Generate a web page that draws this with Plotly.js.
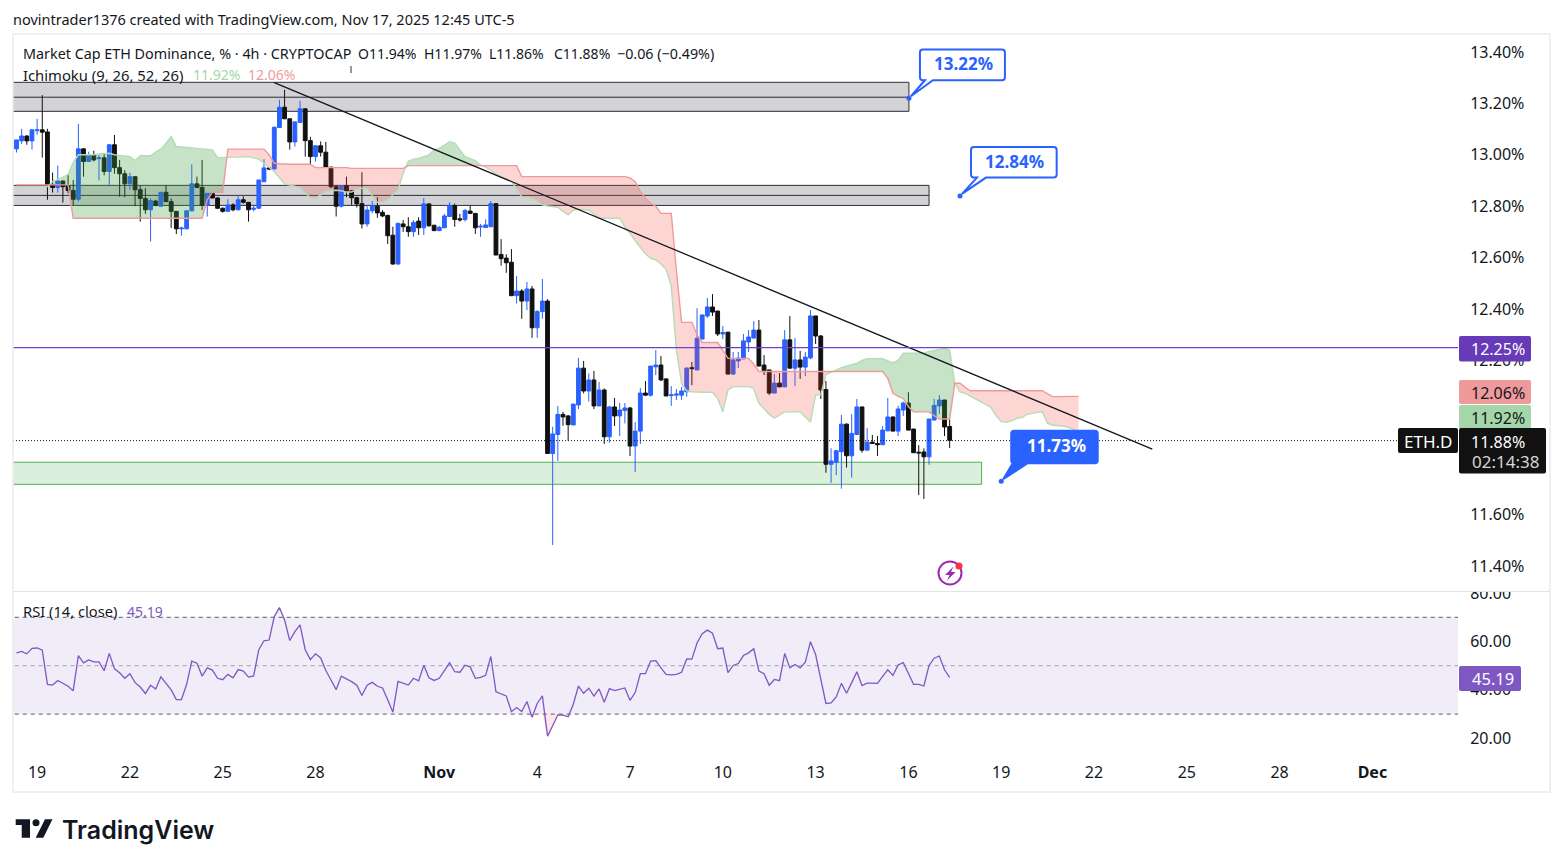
<!DOCTYPE html>
<html><head><meta charset="utf-8">
<script src="https://cdn.plot.ly/plotly-3.0.1.min.js"></script>
<style>html,body{margin:0;padding:0;background:#fff}#c{width:1563px;height:867px}</style>
</head><body><div id="c"></div>
<script>
const WIDTH=1563, HEIGHT=867;
const FONT='"Noto Sans", sans-serif';
const INK='#131722', BLUE='#2962ff', CANDLE_DOWN='#111111', PURPLE='#673ab7', RSI_PURPLE='#7e57c2';

const open=[
13.023,13.054,13.073,13.054,13.094,13.097,13.089,12.883,12.873,12.898,
12.88,12.861,12.827,13.023,12.974,12.999,12.985,12.988,12.935,13.039,
12.95,12.926,12.887,12.915,12.864,12.83,12.786,12.82,12.80,12.854,
12.818,12.78,12.712,12.712,12.782,12.887,12.873,12.803,12.85,12.832,
12.792,12.78,12.805,12.786,12.825,12.815,12.788,12.792,12.895,12.949,
12.945,13.106,13.185,13.14,13.05,13.126,13.179,13.055,12.993,13.035,
13.01,12.952,12.876,12.80,12.88,12.86,12.833,12.81,12.731,12.782,
12.80,12.776,12.764,12.687,12.575,12.731,12.72,12.701,12.742,12.716,
12.809,12.726,12.705,12.716,12.76,12.802,12.751,12.748,12.781,12.772,
12.719,12.717,12.72,12.81,12.612,12.598,12.582,12.452,12.47,12.431,
12.478,12.327,12.39,12.431,11.838,11.912,11.99,11.984,11.949,12.027,
12.17,12.081,12.124,12.023,12.085,11.903,12.019,11.984,12.005,12.015,
11.867,11.925,12.073,12.065,12.175,12.182,12.128,12.063,12.065,12.065,
12.078,12.172,12.163,12.283,12.373,12.408,12.392,12.303,12.31,12.147,
12.198,12.206,12.272,12.287,12.318,12.182,12.163,12.073,12.112,12.097,
12.28,12.17,12.202,12.174,12.21,12.373,12.295,12.087,11.796,11.803,
11.845,11.952,11.829,11.912,12.019,11.851,11.882,11.877,11.872,11.926,
11.98,11.925,12.007,12.034,11.933,11.843,11.844,11.825,11.968,12.023,
12.046,11.943];
const close=[
13.058,13.073,13.054,13.097,13.097,13.088,12.883,12.873,12.898,12.876,
12.861,12.827,13.023,12.974,12.999,12.98,12.988,12.935,13.039,12.95,
12.926,12.887,12.915,12.864,12.83,12.786,12.822,12.803,12.854,12.818,
12.78,12.712,12.715,12.782,12.887,12.873,12.803,12.85,12.832,12.792,
12.78,12.805,12.786,12.825,12.815,12.786,12.792,12.902,12.949,12.945,
13.107,13.185,13.14,13.05,13.128,13.179,13.055,12.993,13.035,13.01,
12.952,12.876,12.80,12.88,12.857,12.833,12.809,12.731,12.785,12.802,
12.774,12.762,12.685,12.575,12.733,12.72,12.701,12.737,12.716,12.809,
12.724,12.705,12.718,12.762,12.803,12.748,12.747,12.783,12.772,12.716,
12.722,12.727,12.81,12.61,12.596,12.58,12.452,12.47,12.431,12.478,
12.327,12.39,12.431,11.838,11.914,11.99,11.98,11.95,12.03,12.17,
12.081,12.124,12.023,12.085,11.903,12.019,11.984,12.007,12.015,11.867,
11.925,12.073,12.065,12.178,12.182,12.124,12.062,12.066,12.069,12.081,
12.17,12.168,12.286,12.377,12.408,12.388,12.303,12.309,12.147,12.202,
12.209,12.276,12.291,12.318,12.178,12.16,12.073,12.112,12.097,12.28,
12.17,12.202,12.174,12.213,12.373,12.295,12.085,11.796,11.809,11.849,
11.952,11.829,11.916,12.019,11.851,11.882,11.877,11.872,11.929,11.98,
11.925,12.011,12.034,11.929,11.841,11.84,11.825,11.972,12.025,12.046,
11.941,11.889];
const high=[
13.058,13.101,13.076,13.10,13.14,13.232,13.101,12.931,12.958,12.90,
12.926,12.902,13.12,13.025,13.012,13.016,13.0,13.006,13.04,13.077,
12.98,12.94,12.93,12.915,12.88,12.87,12.83,12.825,12.855,12.882,
12.83,12.78,12.72,12.782,12.963,12.915,12.98,12.85,12.853,12.835,
12.795,12.827,12.812,12.842,12.838,12.816,12.805,12.902,12.983,12.95,
13.11,13.214,13.253,13.142,13.13,13.21,13.18,13.07,13.037,13.052,
13.05,12.953,12.882,12.882,12.915,12.862,12.837,12.932,12.802,12.82,
12.835,12.785,12.767,12.72,12.737,12.746,12.757,12.746,12.757,12.832,
12.81,12.727,12.723,12.77,12.816,12.81,12.77,12.79,12.803,12.772,
12.731,12.749,12.82,12.811,12.672,12.613,12.633,12.528,12.477,12.505,
12.49,12.396,12.517,12.438,11.942,12.023,12.0,11.988,12.031,12.21,
12.198,12.15,12.159,12.116,12.091,12.023,12.054,12.034,12.034,12.019,
11.96,12.093,12.12,12.178,12.24,12.217,12.13,12.10,12.089,12.097,
12.174,12.194,12.403,12.378,12.443,12.458,12.393,12.334,12.311,12.233,
12.233,12.303,12.318,12.353,12.357,12.221,12.163,12.147,12.151,12.318,
12.373,12.287,12.237,12.233,12.396,12.373,12.299,12.12,11.858,11.849,
11.988,11.955,11.991,12.05,12.02,11.937,11.91,11.906,11.945,12.054,
11.982,12.023,12.04,12.076,11.934,11.87,11.858,11.972,12.05,12.065,
12.047,11.972];
const low=[
13.009,13.042,13.039,13.02,13.078,12.989,12.825,12.853,12.853,12.814,
12.85,12.805,12.818,12.915,12.974,12.974,12.90,12.92,12.877,12.926,
12.837,12.835,12.864,12.80,12.74,12.77,12.663,12.80,12.798,12.815,
12.715,12.692,12.685,12.71,12.78,12.87,12.785,12.76,12.83,12.79,
12.775,12.778,12.78,12.784,12.81,12.74,12.78,12.79,12.894,12.94,
12.943,13.105,13.14,13.02,13.032,13.125,12.993,12.963,12.974,12.993,
12.95,12.87,12.76,12.795,12.835,12.805,12.795,12.713,12.72,12.772,
12.755,12.757,12.653,12.572,12.573,12.70,12.681,12.681,12.688,12.688,
12.72,12.703,12.703,12.715,12.757,12.72,12.74,12.74,12.77,12.692,
12.681,12.716,12.719,12.61,12.569,12.541,12.45,12.422,12.362,12.396,
12.288,12.288,12.362,11.838,11.482,11.809,11.946,11.888,11.948,12.011,
12.072,12.04,12.011,12.022,11.875,11.88,11.945,11.906,11.955,11.828,
11.766,11.875,12.062,12.059,12.143,12.12,12.06,12.023,12.046,12.046,
12.059,12.104,12.162,12.283,12.365,12.373,12.295,12.283,12.146,12.145,
12.17,12.205,12.233,12.286,12.178,12.143,12.065,12.072,12.096,12.096,
12.168,12.10,12.128,12.139,12.205,12.264,12.05,11.763,11.724,11.754,
11.701,11.783,11.744,11.91,11.841,11.85,11.876,11.828,11.871,11.925,
11.924,11.906,11.984,11.928,11.84,11.676,11.661,11.794,11.967,11.991,
11.906,11.859];
const spanA=[
12.876,12.876,12.876,12.876,12.876,12.876,12.876,12.896,12.905,12.915,
12.922,12.97,13.0,13.0,13.0,13.0,13.003,13.005,13.006,13.0,
12.996,12.995,12.993,12.978,12.996,12.996,12.996,13.01,13.022,13.045,
13.071,13.032,13.03,13.028,13.026,13.025,13.022,13.02,13.019,12.989,
12.989,12.989,12.99,12.991,12.992,12.993,12.988,12.983,12.967,12.95,
12.935,12.91,12.887,12.882,12.877,12.873,12.85,12.834,12.831,12.845,
12.857,12.86,12.862,12.86,12.855,12.855,12.865,12.87,12.87,12.84,
12.815,12.815,12.824,12.845,12.863,12.928,12.975,12.983,12.986,12.993,
12.999,13.019,13.025,13.038,13.051,13.045,13.02,12.993,12.985,12.977,
12.96,12.952,12.94,12.925,12.915,12.905,12.898,12.865,12.837,12.834,
12.831,12.82,12.805,12.801,12.798,12.796,12.78,12.766,12.785,12.788,
12.786,12.785,12.77,12.753,12.753,12.753,12.753,12.753,12.72,12.695,
12.665,12.64,12.615,12.597,12.591,12.575,12.555,12.49,12.24,12.11,
12.082,12.078,12.076,12.076,12.076,12.076,12.052,12.0,12.085,12.098,
12.098,12.098,12.098,12.09,12.033,12.012,11.99,11.975,11.988,12.0,
12.0,12.0,12.0,11.98,11.96,12.065,12.066,12.145,12.155,12.165,
12.172,12.178,12.185,12.189,12.2,12.207,12.207,12.207,12.207,12.198,
12.19,12.2,12.228,12.228,12.228,12.228,12.228,12.235,12.24,12.243,
12.247,12.24,12.111,12.078,12.072,12.06,12.05,12.04,12.03,12.017,
11.985,11.962,11.959,11.965,11.975,11.978,11.99,11.995,11.998,12.0,
11.955,11.948,11.946,11.945,11.94,11.932,11.92];
const spanB=[
12.883,12.883,12.883,12.883,12.883,12.883,12.883,12.883,12.883,12.883,
12.883,12.753,12.753,12.753,12.753,12.753,12.753,12.753,12.753,12.753,
12.753,12.753,12.753,12.753,12.753,12.753,12.753,12.753,12.753,12.753,
12.753,12.753,12.753,12.753,12.753,12.753,12.753,12.825,12.854,12.854,
12.854,13.022,13.022,13.022,13.022,13.022,13.022,13.022,13.022,13.0,
12.967,12.965,12.963,12.963,12.963,12.963,12.963,12.963,12.95,12.95,
12.95,12.95,12.95,12.95,12.95,12.947,12.947,12.947,12.947,12.947,
12.947,12.947,12.947,12.947,12.947,12.947,12.958,12.958,12.958,12.958,
12.958,12.958,12.958,12.958,12.958,12.958,12.958,12.958,12.958,12.958,
12.958,12.958,12.958,12.958,12.958,12.958,12.958,12.958,12.915,12.915,
12.915,12.915,12.915,12.915,12.915,12.915,12.915,12.915,12.915,12.915,
12.915,12.915,12.915,12.915,12.915,12.915,12.915,12.915,12.915,12.91,
12.895,12.857,12.83,12.811,12.80,12.772,12.772,12.772,12.55,12.348,
12.348,12.348,12.30,12.27,12.27,12.27,12.27,12.24,12.208,12.208,
12.208,12.208,12.208,12.185,12.157,12.157,12.157,12.157,12.157,12.157,
12.157,12.157,12.157,12.157,12.157,12.157,12.157,12.157,12.157,12.157,
12.157,12.157,12.157,12.157,12.157,12.157,12.157,12.157,12.157,12.13,
12.072,12.06,12.052,12.02,12.0,12.0,12.0,12.0,11.985,11.972,
11.972,11.972,12.111,12.111,12.095,12.082,12.082,12.082,12.082,12.082,
12.082,12.082,12.082,12.082,12.082,12.082,12.082,12.082,12.082,12.082,
12.07,12.059,12.059,12.059,12.059,12.059,12.06];
const rsi=[
55.3,55.9,54.9,57.2,57.3,56.4,42.3,42.0,43.9,42.6,
41.5,39.6,54.2,51.2,52.4,51.6,51.6,47.9,55.1,48.7,
47.1,44.8,46.7,43.0,41.2,38.5,41.9,40.4,45.4,42.7,
40.0,36.0,36.0,42.3,51.9,51.0,45.7,49.1,48.2,44.8,
44.2,46.4,45.0,48.4,47.8,45.3,45.8,56.6,60.3,60.6,
70.3,74.0,68.9,60.4,64.1,66.9,56.6,52.5,54.9,53.2,
48.0,44.1,40.1,45.7,44.6,43.4,41.9,37.7,41.9,43.1,
41.5,40.8,35.9,30.8,43.5,42.8,42.0,44.8,43.7,50.2,
45.0,43.9,44.8,48.0,51.2,47.5,47.3,50.2,49.5,44.8,
45.2,46.0,53.8,39.2,38.2,37.5,31.0,32.7,31.1,35.2,
28.7,34.4,37.5,20.9,25.2,29.7,29.6,28.9,34.1,41.6,
38.6,40.7,37.4,40.4,34.9,40.5,39.7,40.4,40.8,35.7,
38.9,46.7,46.7,51.9,52.1,49.1,46.4,46.2,46.4,47.3,
52.8,52.7,59.4,63.2,64.7,63.4,57.0,57.3,47.1,50.1,
50.9,54.2,55.3,57.0,47.8,46.7,41.9,44.3,43.8,55.0,
49.1,50.5,49.1,51.4,59.9,54.6,43.9,34.4,34.6,37.1,
42.7,38.6,43.0,47.5,41.8,42.8,42.8,42.7,45.6,48.3,
46.0,50.3,51.3,46.7,42.3,42.3,41.6,50.1,53.1,54.0,
48.3,45.19];

const dateTickBars=[4,22,40,58,82,101,119,137,155,173,191,209,227,245,263];
const dateTickLabels=['19','22','25','28','<b>Nov</b>','4','7','10','13','16','19','22','25','28','<b>Dec</b>'];
const priceTicks=[11.4,11.6,12.2,12.4,12.6,12.8,13.0,13.2,13.4];
const rsiTicks=[20,40,60,80];

const grayZoneTop=[13.282,12.881], grayZoneMid=[13.224,12.842], grayZoneBottom=[13.169,12.803], grayZoneEnd=[173.1,177];
const greenZone={top:11.804,bottom:11.718,end:187.2};
const trendBars=[50,220.3], trendPrices=[13.281,11.855];
const resistanceLevel=12.25, lastLevel=11.888;
const calloutBars=[173.1,183,191], calloutPrices=[13.22,12.84,11.73];
const calloutLabels=['13.22%','12.84%','11.73%'];

const barsIdx=close.map((_,i)=>i);
const cloudIdx=spanA.map((_,i)=>i);

const px=x=>x/WIDTH, py=y=>1-y/HEIGHT;
function rrect(x0,y0,x1,y1,r){
  const f=(x,y)=>px(x)+' '+py(y);
  return 'M'+f(x0+r,y0)+' L'+f(x1-r,y0)+' Q'+f(x1,y0)+' '+f(x1,y0+r)+' L'+f(x1,y1-r)+' Q'+f(x1,y1)+' '+f(x1-r,y1)+
         ' L'+f(x0+r,y1)+' Q'+f(x0,y1)+' '+f(x0,y1-r)+' L'+f(x0,y0+r)+' Q'+f(x0,y0)+' '+f(x0+r,y0)+' Z';
}
const poly=pts=>'M'+pts.map(p=>px(p[0])+' '+py(p[1])).join(' L')+' Z';
const paperShape=(path,fill,line)=>({type:'path',xref:'paper',yref:'paper',path,fillcolor:fill,line:line||{width:0},layer:'above'});
const circle=(cx,cy,r,fill,lc,lw)=>({type:'circle',xref:'paper',yref:'paper',x0:px(cx-r),x1:px(cx+r),y0:py(cy+r),y1:py(cy-r),fillcolor:fill,line:{color:lc||fill,width:lw||0},layer:'above'});
function note(x,y,text,o){o=o||{};
  const a=o.a||'left';
  return {xref:'paper',yref:'paper',x:px(a==='left'?x-2:x),y:py(y),text,showarrow:false,xanchor:a,yanchor:'middle',align:a,
    font:{family:o.family||FONT,size:o.size||14,color:o.color||INK,weight:o.weight||400}};
}

function cloudRuns(){
  const runs=[];let cur=null;
  for(let i=0;i<spanA.length;i++){
    const up=spanA[i]>=spanB[i];
    if(cur&&cur.up!==up){
      const d0=spanA[i-1]-spanB[i-1], d1=spanA[i]-spanB[i], t=d0/(d0-d1);
      const xc=i-1+t, yc=spanA[i-1]+t*(spanA[i]-spanA[i-1]);
      cur.x.push(xc);cur.a.push(yc);cur.b.push(yc);runs.push(cur);
      cur={up,x:[xc],a:[yc],b:[yc]};
    }
    if(!cur)cur={up,x:[],a:[],b:[]};
    cur.x.push(i);cur.a.push(spanA[i]);cur.b.push(spanB[i]);
  }
  runs.push(cur);return runs;
}
const traces=[];
cloudRuns().forEach(r=>traces.push({type:'scatter',mode:'lines',x:r.x.concat(r.x.slice().reverse()),y:r.a.concat(r.b.slice().reverse()),
  fill:'toself',fillcolor:r.up?'rgba(67,160,71,0.30)':'rgba(244,67,54,0.22)',line:{width:0},hoverinfo:'skip',showlegend:false}));
traces.push({type:'scatter',mode:'lines',x:cloudIdx,y:spanA,line:{color:'#b5dcb7',width:1.4},hoverinfo:'skip',showlegend:false});
traces.push({type:'scatter',mode:'lines',x:cloudIdx,y:spanB,line:{color:'#ef9a9a',width:1.4},hoverinfo:'skip',showlegend:false});
traces.push({type:'candlestick',x:barsIdx,open,high,low,close,whiskerwidth:0,showlegend:false,hoverinfo:'skip',
  increasing:{line:{color:BLUE,width:1},fillcolor:BLUE},decreasing:{line:{color:CANDLE_DOWN,width:1},fillcolor:CANDLE_DOWN}});
traces.push({type:'scatter',mode:'lines',x:trendBars,y:trendPrices,line:{color:INK,width:1.3},hoverinfo:'skip',showlegend:false});
traces.push({type:'scatter',mode:'markers',x:calloutBars,y:calloutPrices,marker:{color:BLUE,size:5},hoverinfo:'skip',showlegend:false});
traces.push({type:'scatter',mode:'lines',xaxis:'x',yaxis:'y2',x:barsIdx,y:rsi.map(()=>30),line:{width:0},hoverinfo:'skip',showlegend:false});
traces.push({type:'scatter',mode:'lines',xaxis:'x',yaxis:'y2',x:barsIdx,y:rsi.map(v=>Math.min(v,30)),line:{width:0},fill:'tonexty',fillcolor:'rgba(242,54,69,0.12)',hoverinfo:'skip',showlegend:false});
traces.push({type:'scatter',mode:'lines',xaxis:'x',yaxis:'y2',x:barsIdx,y:rsi.map(()=>70),line:{width:0},hoverinfo:'skip',showlegend:false});
traces.push({type:'scatter',mode:'lines',xaxis:'x',yaxis:'y2',x:barsIdx,y:rsi.map(v=>Math.max(v,70)),line:{width:0},fill:'tonexty',fillcolor:'rgba(76,175,80,0.10)',hoverinfo:'skip',showlegend:false});
traces.push({type:'scatter',mode:'lines',xaxis:'x',yaxis:'y2',x:barsIdx,y:rsi,line:{color:RSI_PURPLE,width:1.3},hoverinfo:'skip',showlegend:false});
traces.push({type:'scatter',mode:'lines',x:[-5,300],y:[resistanceLevel,resistanceLevel],line:{color:'#6f3fd0',width:1.3},hoverinfo:'skip',showlegend:false});

const hLine=(y,color,w,dash,yref,layer,x1)=>({type:'line',xref:'x',x0:-5,x1:x1===undefined?300:x1,yref:yref||'y',y0:y,y1:y,line:{color,width:w,dash:dash||'solid'},layer:layer||'above'});
const shapes=[];
grayZoneTop.forEach((t,k)=>{
  shapes.push({type:'rect',xref:'x',yref:'y',x0:-5,x1:grayZoneEnd[k],y0:grayZoneBottom[k],y1:t,fillcolor:'#d3d3d6',line:{color:'#2a2e39',width:1},layer:'below'});
  shapes.push(hLine(grayZoneMid[k],'#2a2e39',1,'solid','y','below',grayZoneEnd[k]));
});
shapes.push({type:'rect',xref:'x',yref:'y',x0:-5,x1:greenZone.end,y0:greenZone.bottom,y1:greenZone.top,fillcolor:'#dcefdd',line:{color:'#4caf50',width:1},layer:'below'});
shapes.push({type:'line',xref:'paper',x0:px(13),x1:px(1398),yref:'y',y0:lastLevel,y1:lastLevel,line:{color:'#131722',width:1,dash:'1px,2px'},layer:'above'});
shapes.push({type:'rect',xref:'x',yref:'y2',x0:-5,x1:300,y0:30,y1:70,fillcolor:'#f0ecf8',line:{width:0},layer:'below'});
shapes.push(hLine(70,'#787b86',1.2,'4px,4px','y2','below'));
shapes.push(hLine(50,'#b2b0bc',1.2,'4px,4px','y2','below'));
shapes.push(hLine(30,'#787b86',1.2,'4px,4px','y2','below'));

function callout(i,p,dx0,dx1,dy0,dy1,t0,t1,fill){
  const r=3;
  const path='M'+t0+' '+dy0+' L2 2 L'+t1+' '+dy0+' L'+(dx1-r)+' '+dy0+' Q'+dx1+' '+dy0+' '+dx1+' '+(dy0+r)+' L'+dx1+' '+(dy1-r)+' Q'+dx1+' '+dy1+' '+(dx1-r)+' '+dy1+
    ' L'+(dx0+r)+' '+dy1+' Q'+dx0+' '+dy1+' '+dx0+' '+(dy1-r)+' L'+dx0+' '+(dy0+r)+' Q'+dx0+' '+dy0+' '+(dx0+r)+' '+dy0+' Z';
  return {type:'path',xref:'x',yref:'y',xsizemode:'pixel',ysizemode:'pixel',xanchor:i,yanchor:p,path,fillcolor:fill,line:{color:BLUE,width:2},layer:'above'};
}
shapes.push(callout(calloutBars[0],calloutPrices[0],11,96,18,48.7,16,24,'#ffffff'));
shapes.push(callout(calloutBars[1],calloutPrices[1],11,96.7,18.3,49,17,26,'#ffffff'));
shapes.push(callout(calloutBars[2],calloutPrices[2],10,96.5,18,50.5,11.5,26.5,BLUE));

shapes.push({type:'rect',xref:'paper',yref:'paper',x0:px(13),x1:px(1550),y0:py(792),y1:py(34),line:{color:'#ececec',width:1.5},fillcolor:'rgba(0,0,0,0)',layer:'above'});
shapes.push(paperShape(poly([[1459,576],[1549,576],[1549,592],[1459,592]]),'#ffffff'));
shapes.push({type:'line',xref:'paper',yref:'paper',x0:px(13),x1:px(1550),y0:py(591.5),y1:py(591.5),line:{color:'#e0e3eb',width:1},layer:'above'});
shapes.push({type:'line',xref:'paper',yref:'paper',x0:px(351),x1:px(351),y0:py(66),y1:py(73),line:{color:'#333',width:1},layer:'above'});
shapes.push(paperShape(rrect(1459,336,1531,361.5,2),PURPLE));
shapes.push(paperShape(rrect(1459,380,1531,404,2),'#ef9a9a'));
shapes.push(paperShape(rrect(1459,405,1531,429,2),'#a5d6a7'));
shapes.push(paperShape(rrect(1398,428,1458,453,2),'#111111'));
shapes.push(paperShape(rrect(1459,428,1546,473.5,2),'#111111'));
shapes.push(paperShape(rrect(1459,666,1521,691,2),RSI_PURPLE));
shapes.push(circle(950,573,11.5,'rgba(255,255,255,0)','#9c27b0',2));
shapes.push(paperShape(poly([[953.5,566.5],[945,575],[949.5,575],[947,580.5],[955.5,572],[951,572]]),'#9c27b0'));
shapes.push(circle(959,566,3.5,'#f23645'));
shapes.push(paperShape(poly([[15.7,819.3],[30,819.3],[30,837.7],[21.7,837.7],[21.7,825],[15.7,825]]),'#131722'));
shapes.push(circle(36,822.8,3.5,'#131722'));
shapes.push(paperShape(poly([[45,819.3],[52.5,819.3],[43.3,837.7],[35.7,837.7]]),'#131722'));

const annotations=[
 note(13,19,'novintrader1376 created with TradingView.com, Nov 17, 2025 12:45 UTC-5',{size:14.5}),
 note(23,54,'Market Cap ETH Dominance, % · 4h · CRYPTOCAP',{size:14.35}),
 note(358,54,'O11.94%'),note(424,54,'H11.97%'),note(489,54,'L11.86%'),note(554,54,'C11.88%'),note(617,54,'−0.06 (−0.49%)',{size:14.3}),
 note(23,74.5,'Ichimoku (9, 26, 52, 26)',{size:14.8}),
 note(193,74.5,'11.92%',{color:'#a5d6a7'}),note(248,74.5,'12.06%',{color:'#ef9a9a'}),
 note(23,611,'RSI (14, close)',{size:14.7}),note(127,611,'45.19',{color:RSI_PURPLE}),
 note(1498,349,'12.25%',{a:'center',color:'#ffffff',size:16}),
 note(1498,393,'12.06%',{a:'center',size:16}),
 note(1498,418,'11.92%',{a:'center',size:16}),
 note(1428,441,'ETH.D',{a:'center',color:'#ffffff',size:17}),
 note(1498,442,'11.88%',{a:'center',color:'#ffffff',size:16}),
 note(1505,462,'02:14:38',{a:'center',color:'#d6d6d6',size:17}),
 note(1493,678,'45.19',{a:'center',color:'#ffffff',size:16.5}),
 note(963,64,calloutLabels[0],{a:'center',color:BLUE,size:17,weight:700}),
 note(1014.5,162,calloutLabels[1],{a:'center',color:BLUE,size:17,weight:700}),
 note(1056,445,calloutLabels[2],{a:'center',color:'#ffffff',size:17,weight:700}),
 note(62,830,'TradingView',{size:25,weight:600,family:'Inter, sans-serif',color:'#131722'})
];

const layout={
  width:WIDTH,height:HEIGHT,margin:{l:0,r:0,t:0,b:0},paper_bgcolor:'#ffffff',plot_bgcolor:'#ffffff',
  showlegend:false,hovermode:false,dragmode:false,boxmode:'overlay',boxgap:0.26,boxgroupgap:0,
  font:{family:FONT,size:14,color:INK},
  xaxis:{domain:[px(13),px(1458)],range:[-0.679,279.6],anchor:'y2',rangeslider:{visible:false},showgrid:false,zeroline:false,showline:false,
    tickmode:'array',tickvals:dateTickBars,ticktext:dateTickLabels,ticks:'outside',ticklen:1,tickcolor:'rgba(0,0,0,0)',tickfont:{family:FONT,size:16,color:INK}},
  yaxis:{domain:[py(591),py(35)],range:[11.303,13.466],side:'right',anchor:'x',showgrid:false,zeroline:false,showline:false,
    tickmode:'array',tickvals:priceTicks,ticktext:priceTicks.map(v=>v.toFixed(2)+'%'),ticks:'outside',ticklen:8,tickcolor:'rgba(0,0,0,0)',tickfont:{family:FONT,size:16,color:INK}},
  yaxis2:{domain:[py(757),py(592)],range:[12.27,80.45],side:'right',anchor:'x',showgrid:false,zeroline:false,showline:false,
    tickmode:'array',tickvals:rsiTicks,ticktext:rsiTicks.map(v=>v.toFixed(2)),ticks:'outside',ticklen:8,tickcolor:'rgba(0,0,0,0)',tickfont:{family:FONT,size:16,color:INK}},
  shapes,annotations
};
Plotly.newPlot('c',traces,layout,{displayModeBar:false,staticPlot:true});
</script></body></html>
